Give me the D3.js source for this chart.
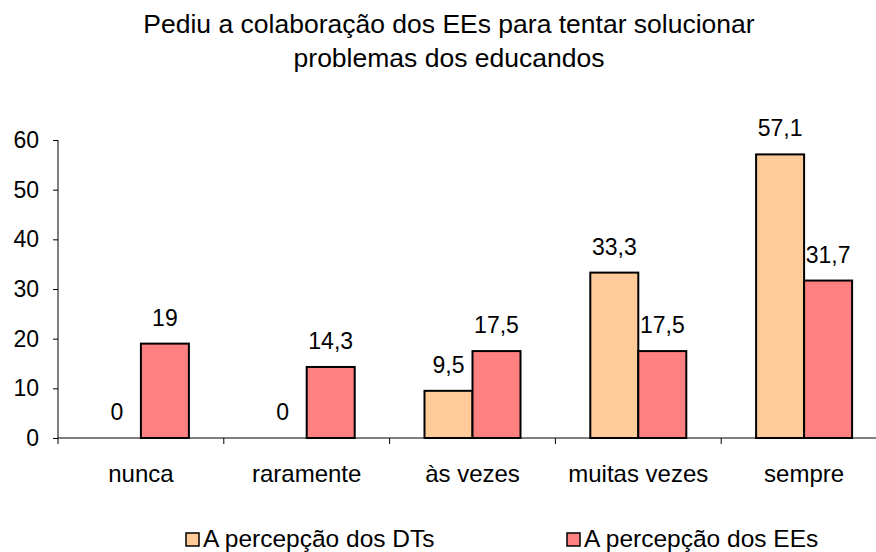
<!DOCTYPE html>
<html><head><meta charset="utf-8">
<script src="https://cdn.jsdelivr.net/npm/d3@7"></script>
<style>body{margin:0;background:#fff}svg{display:block;font-family:"Liberation Sans",Arial,sans-serif}</style>
</head><body><svg id="c" width="876" height="552"></svg>
<script>
const categories = ["nunca", "raramente", "às vezes", "muitas vezes", "sempre"];
const seriesNames = ["A percepção dos DTs", "A percepção dos EEs"];
const dtValues = [0, 0, 9.5, 33.3, 57.1];
const eeValues = [19, 14.3, 17.5, 17.5, 31.7];
const yTicks = [0, 10, 20, 30, 40, 50, 60];
const titleLines = ["Pediu a colaboração dos EEs para tentar solucionar", "problemas dos educandos"];
const colors = ["#FFCC99", "#FF8080"];

(function () {
const svg = d3.select("#c");
const pLeft = 58, pRight = 887, pTop = 140, pBottom = 438;
const x = d3.scaleBand().domain(categories).range([pLeft, pRight]).paddingInner(0).paddingOuter(0);
const y = d3.scaleLinear().domain([0, 60]).range([pBottom, pTop]);
const barW = 48;
const series = [dtValues, eeValues];

svg.selectAll("text.title").data(titleLines).enter().append("text")
  .attr("class", "title")
  .attr("x", 449).attr("y", (d, i) => 33 + i * 33.5)
  .attr("text-anchor", "middle").attr("font-size", 26.5).attr("fill", "#000").text(d => d);

const yAxis = d3.axisLeft(y).tickValues(yTicks).tickSize(5).tickPadding(14);
const gy = svg.append("g").attr("transform", `translate(${pLeft},0)`).call(yAxis);
gy.selectAll("text").attr("font-size", 23).attr("fill", "#000").attr("font-family", "Liberation Sans, Arial, sans-serif");
gy.selectAll("line").attr("stroke", "#000");
gy.select(".domain").attr("stroke", "#000").attr("d", `M0,${pTop}V${pBottom}`);

series.forEach((vals, s) => {
  const g = svg.append("g");
  const data = categories.map((c, i) => ({c, v: vals[i]}));
  g.selectAll("rect").data(data.filter(d => d.v > 0)).enter().append("rect")
    .attr("x", d => x(d.c) + x.bandwidth() / 2 - barW + s * barW)
    .attr("y", d => y(d.v))
    .attr("width", barW)
    .attr("height", d => pBottom - y(d.v))
    .attr("fill", colors[s]).attr("stroke", "#000").attr("stroke-width", 2);
  g.selectAll("text").data(data).enter().append("text")
    .attr("x", d => x(d.c) + x.bandwidth() / 2 - barW / 2 + s * barW)
    .attr("y", d => y(d.v) - 18)
    .attr("text-anchor", "middle").attr("font-size", 23).attr("fill", "#000")
    .text(d => String(d.v).replace(".", ","));
});

const gx = svg.append("g").attr("transform", `translate(0,${pBottom})`);
gx.append("line").attr("x1", pLeft).attr("x2", pRight).attr("stroke", "#000");
const tickXs = categories.map(c => x(c)).concat([pRight]);
gx.selectAll("line.t").data(tickXs).enter().append("line").attr("class", "t")
  .attr("x1", d => d).attr("x2", d => d).attr("y1", 0).attr("y2", 6).attr("stroke", "#000");
gx.selectAll("text").data(categories).enter().append("text")
  .attr("x", d => x(d) + x.bandwidth() / 2).attr("y", 44)
  .attr("text-anchor", "middle").attr("font-size", 24).attr("fill", "#000").text(d => d);

const legX = [186, 567];
const lg = svg.append("g");
seriesNames.forEach((n, i) => {
  lg.append("rect").attr("x", legX[i]).attr("y", 533).attr("width", 13).attr("height", 13)
    .attr("fill", colors[i]).attr("stroke", "#000").attr("stroke-width", 1.5);
  lg.append("text").attr("x", legX[i] + 17).attr("y", 547).attr("font-size", 24.5).attr("fill", "#000").text(n);
});
})();
</script></body></html>
